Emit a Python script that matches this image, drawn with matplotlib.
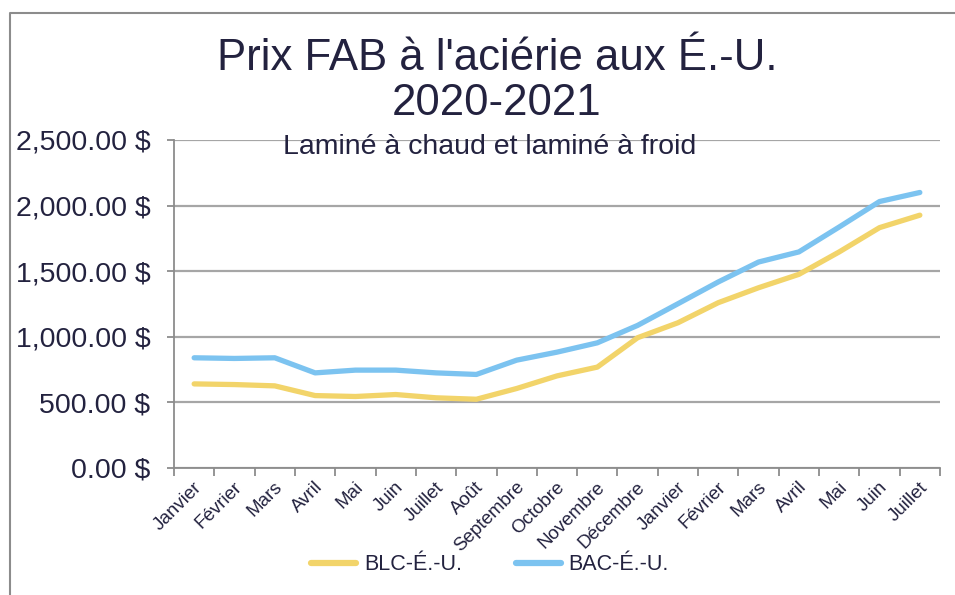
import matplotlib
matplotlib.use("Agg")
import matplotlib.pyplot as plt
import matplotlib.lines as mLines
import matplotlib.transforms as mTransforms
from matplotlib.ticker import FuncFormatter

# Données (USD / tonne courte)
months = ['Janvier', 'Février', 'Mars', 'Avril', 'Mai', 'Juin', 'Juillet', 'Août',
          'Septembre', 'Octobre', 'Novembre', 'Décembre',
          'Janvier', 'Février', 'Mars', 'Avril', 'Mai', 'Juin', 'Juillet']
blc = [641, 636, 626, 552, 545, 560, 535, 524, 606, 702, 769, 993,
       1107, 1260, 1374, 1476, 1647, 1832, 1927]
bac = [840, 835, 840, 725, 746, 746, 725, 713, 822, 883, 954, 1087,
       1252, 1418, 1570, 1647, 1837, 2031, 2100]

textColor = '#23223f'
gridColor = '#a6a6a6'
font = ['Liberation Sans', 'DejaVu Sans']

fig = plt.figure(figsize=(9.55, 5.95), dpi=100)
ax = fig.add_axes([174 / 955, 1 - 468 / 595, 766 / 955, 328 / 595])

x = list(range(len(months)))
ax.plot(x, blc, color='#f2d46a', linewidth=3.8, solid_capstyle='round', label='BLC-É.-U.', zorder=3)
ax.plot(x, bac, color='#7cc3f0', linewidth=3.8, solid_capstyle='round', label='BAC-É.-U.', zorder=3)

ax.set_xlim(-0.5, len(months) - 0.5)
ax.set_ylim(0, 2500)
ax.set_yticks(range(0, 2501, 500))
ax.yaxis.set_major_formatter(FuncFormatter(lambda v, p: f'{v:,.2f} $'))
ax.grid(axis='y', color=gridColor, linewidth=1.6, zorder=0)
ax.set_axisbelow(True)

for side in ['top', 'right']:
    ax.spines[side].set_visible(False)
for side in ['left', 'bottom']:
    ax.spines[side].set_color('#8c8c8c')
    ax.spines[side].set_linewidth(1.3)

ax.tick_params(axis='y', length=5, width=1.3, color='#8c8c8c', pad=12,
               labelsize=20.5, labelcolor=textColor)
for lbl in ax.get_yticklabels():
    lbl.set_family(font)

# ticks aux limites des catégories, étiquettes au centre
ax.set_xticks([i - 0.5 for i in range(len(months) + 1)])
ax.set_xticklabels([])
ax.tick_params(axis='x', which='major', length=6, width=1.3, color='#8c8c8c')
ax.set_xticks(x, minor=True)
ax.set_xticklabels(months, minor=True, rotation=45, ha='right', va='center',
                   rotation_mode='anchor', fontsize=13.5,
                   color=textColor, family=font)
ax.tick_params(axis='x', which='minor', length=0, pad=12)
offset = mTransforms.ScaledTranslation(5 / 100, 0, fig.dpi_scale_trans)
for lbl in ax.get_xticklabels(minor=True):
    lbl.set_transform(lbl.get_transform() + offset)

fig.text(497 / 955, 1 - 58 / 595, "Prix FAB à l'aciérie aux É.-U.", ha='center', va='center',
         fontsize=31.5, color=textColor, family=font)
fig.text(497 / 955, 1 - 103 / 595, '2020-2021', ha='center', va='center',
         fontsize=31.5, color=textColor, family=font)
fig.text(490 / 955, 1 - 147 / 595, 'Laminé à chaud et laminé à froid', ha='center', va='center',
         fontsize=20.5, color=textColor, family=font)

leg = fig.legend(loc='center', bbox_to_anchor=(490 / 955, 1 - 565 / 595), ncol=2, frameon=False,
                 handlelength=2.1, columnspacing=2.5, handletextpad=0.35,
                 prop={'family': font, 'size': 15.5})
for t in leg.get_texts():
    t.set_color(textColor)
for h in leg.legend_handles:
    h.set_linewidth(4.5)

# cadre : seulement le bord haut et le bord gauche sont visibles
fig.lines.append(mLines.Line2D([10 / 955, 10 / 955, 1], [0, 1 - 12.5 / 595, 1 - 12.5 / 595],
                               transform=fig.transFigure, color='#8c8c8c', linewidth=1.5))

fig.savefig('out.png', dpi=100)
plt.close()
